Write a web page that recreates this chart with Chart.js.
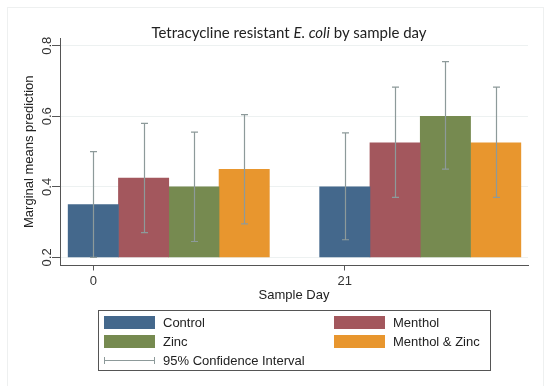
<!DOCTYPE html>
<html>
<head>
<meta charset="utf-8">
<script src="https://cdn.jsdelivr.net/npm/chart.js@4.4.1/dist/chart.umd.min.js"></script>
<style>
  body { margin: 0; background: #fff; }
  #wrap { position: relative; width: 550px; height: 386px; overflow: hidden; }
  #frame { position: absolute; left: 7px; top: 7px; width: 535px; height: 390px; border: 1px solid #eef0f0; }
  #title {
    position: absolute; left: 289px; top: 23px; transform: translateX(-50%);
    font: 15px Lato, sans-serif; color: #222; white-space: nowrap;
  }
  #legend {
    position: absolute; left: 98px; top: 310px; width: 391px; height: 59px;
    border: 1px solid #555; font: 13px "Liberation Sans", Arial, sans-serif; color: #222;
  }
  .item { position: absolute; height: 16px; line-height: 16px; white-space: nowrap; }
  .sw { position: absolute; left: 0; top: 1px; width: 51px; height: 13px; }
  .lbl { position: absolute; left: 59px; top: 0; }
  .ci { position: absolute; left: 0; top: 7px; width: 51px; height: 0; border-top: 1px solid #8d9a9a; }
  .ci:before, .ci:after { content: ''; position: absolute; top: -4px; width: 1px; height: 7px; background: #8d9a9a; }
  .ci:before { left: 0; } .ci:after { right: 0; }
</style>
</head>
<body>
<div id="wrap">
  <canvas id="chart" width="550" height="386"></canvas>
  <div id="frame"></div>
  <div id="title">Tetracycline resistant <i>E. coli</i> by sample day</div>
  <div id="legend"></div>
</div>
<script>
const days = ['0', '21'];
const treatments = ['Control', 'Menthol', 'Zinc', 'Menthol & Zinc'];
const colors = ['#44688c', '#a3575d', '#768a50', '#e8962e'];

// marginal means, per treatment
const meanDay0 = [0.35, 0.425, 0.40, 0.45];
const meanDay21 = [0.40, 0.525, 0.60, 0.525];

// 95% CI bounds
const ciLowDay0 = [0.20, 0.27, 0.245, 0.295];
const ciHighDay0 = [0.50, 0.58, 0.555, 0.605];
const ciLowDay21 = [0.25, 0.37, 0.45, 0.37];
const ciHighDay21 = [0.553, 0.683, 0.755, 0.683];

const yTicks = [0.2, 0.4, 0.6, 0.8];

const means = [meanDay0, meanDay21];
const lows = [ciLowDay0, ciLowDay21];
const highs = [ciHighDay0, ciHighDay21];
const slotsPerDay = treatments.length + 1; // one empty slot between days
const dayTickPos = days.map((d, i) => i * slotsPerDay);

const datasets = treatments.map((t, k) => ({
  label: t,
  backgroundColor: colors[k],
  borderWidth: 0,
  base: 0.2,
  grouped: false,
  barPercentage: 1,
  categoryPercentage: 1,
  data: days.map((d, i) => ({ x: i * slotsPerDay + k, y: means[i][k] })),
  ci: days.map((d, i) => [lows[i][k], highs[i][k]]),
}));

const errorBars = {
  id: 'errorBars',
  afterDatasetsDraw(chart) {
    const { ctx } = chart;
    const y = chart.scales.y;
    ctx.save();
    ctx.strokeStyle = '#8d9a9a';
    ctx.lineWidth = 1.2;
    chart.data.datasets.forEach((ds, i) => {
      chart.getDatasetMeta(i).data.forEach((bar, j) => {
        const [lo, hi] = ds.ci[j];
        const x = Math.round(bar.x) + 0.5;
        const yl = y.getPixelForValue(lo);
        const yh = y.getPixelForValue(hi);
        ctx.beginPath();
        ctx.moveTo(x, yl); ctx.lineTo(x, yh);
        ctx.moveTo(x - 3.5, yl); ctx.lineTo(x + 3.5, yl);
        ctx.moveTo(x - 3.5, yh); ctx.lineTo(x + 3.5, yh);
        ctx.stroke();
      });
    });
    ctx.restore();
  },
};

const axisFont = { family: '"Liberation Sans", Arial, sans-serif', size: 13 };

new Chart(document.getElementById('chart'), {
  type: 'bar',
  data: { datasets },
  plugins: [errorBars],
  options: {
    responsive: false,
    animation: false,
    events: [],
    layout: { padding: { top: 38, right: 22, left: 0, bottom: 80.5 } },
    plugins: { legend: { display: false }, title: { display: false }, tooltip: { enabled: false } },
    scales: {
      x: {
        type: 'linear',
        offset: false,
        min: -0.662,
        max: 8.642,
        afterBuildTicks: (s) => { s.ticks = dayTickPos.map((v) => ({ value: v })); },
        afterFit: (s) => { s.height = 40; },
        ticks: {
          callback: (v) => days[dayTickPos.indexOf(v)],
          font: axisFont, color: '#333', padding: 3, maxRotation: 0, autoSkip: false,
        },
        grid: { offset: false, drawOnChartArea: false, tickLength: 5, tickColor: '#555', color: '#555' },
        border: { color: '#555' },
        title: { display: true, text: 'Sample Day', font: axisFont, color: '#222', padding: { top: 0, bottom: 2 } },
      },
      y: {
        min: 0.177,
        max: 0.822,
        afterBuildTicks: (s) => { s.ticks = yTicks.map((v) => ({ value: v })); },
        afterFit: (s) => { s.width = 60; },
        ticks: {
          callback: (v) => v.toFixed(1),
          font: axisFont, color: '#333', minRotation: 90, maxRotation: 90,
          crossAlign: 'center', padding: -4.5,
        },
        grid: { color: '#edf1f1', tickColor: '#555', tickLength: 8 },
        border: { color: '#555' },
        title: { display: true, text: 'Marginal means prediction', font: axisFont, color: '#222', padding: { top: 22, bottom: 0 } },
      },
    },
  },
});

// legend: two columns of swatches, then the CI line
const legend = document.getElementById('legend');
const pos = [[5, 4], [235, 4], [5, 23], [235, 23]];
datasets.forEach((ds, k) => {
  const item = document.createElement('div');
  item.className = 'item';
  item.style.left = pos[k][0] + 'px';
  item.style.top = pos[k][1] + 'px';
  item.innerHTML = '<span class="sw" style="background:' + ds.backgroundColor + '"></span><span class="lbl">' + ds.label + '</span>';
  legend.appendChild(item);
});
const ciItem = document.createElement('div');
ciItem.className = 'item';
ciItem.style.left = '5px';
ciItem.style.top = '42px';
ciItem.innerHTML = '<span class="ci"></span><span class="lbl">95% Confidence Interval</span>';
legend.appendChild(ciItem);
</script>
</body>
</html>
